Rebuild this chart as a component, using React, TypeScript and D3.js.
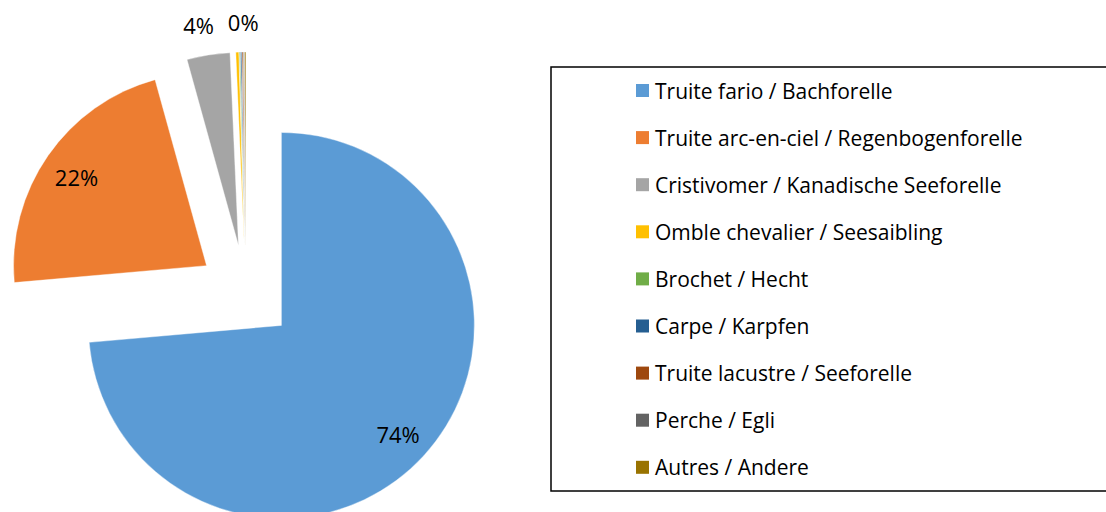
import React from 'react'
import { arc, pie, PieArcDatum } from 'd3'

const species = [
  'Truite fario / Bachforelle',
  'Truite arc-en-ciel / Regenbogenforelle',
  'Cristivomer / Kanadische Seeforelle',
  'Omble chevalier / Seesaibling',
  'Brochet / Hecht',
  'Carpe / Karpfen',
  'Truite lacustre / Seeforelle',
  'Perche / Egli',
  'Autres / Andere',
]
const shares = [73.6, 22.1, 3.6, 0.25, 0.08, 0.1, 0.1, 0.07, 0.1]
const colors = [
  '#5B9BD5',
  '#ED7D31',
  '#A5A5A5',
  '#FFC000',
  '#70AD47',
  '#255E91',
  '#9E480E',
  '#636363',
  '#997300',
]

type Slice = { name: string; value: number; color: string }
const slices: Slice[] = species.map((name, i) => ({
  name,
  value: shares[i],
  color: colors[i],
}))

const W = 1106
const H = 512
const cx = 246
const cy = 293
const radius = 193
const explode = 48
const font = '"Open Sans", Lato, sans-serif'

function App() {
  const total = shares.reduce((a, b) => a + b, 0)
  const arcs = pie<Slice>()
    .sort(null)
    .value((d) => d.value)(slices)

  const arcGen = arc<PieArcDatum<Slice>>().innerRadius(0).outerRadius(radius)

  const dir = (a: PieArcDatum<Slice>) => {
    const m = (a.startAngle + a.endAngle) / 2
    return [Math.sin(m), -Math.cos(m)]
  }

  // big slices get their label inside, small ones outside; overlapping ones are dropped
  let lastX = -Infinity
  const labels = arcs.map((a) => {
    const [dx, dy] = dir(a)
    const pct = Math.round((a.data.value / total) * 100)
    const inside = a.data.value / total > 0.1
    const d = inside ? radius * 0.82 : radius + 30
    let x = dx * (explode + d)
    const y = dy * (explode + d) + (inside ? 2 : 0)
    let show = true
    if (!inside) {
      if (Math.abs(x - lastX) < 30) show = false
      else {
        // outside labels spread apart a little, as the original does
        x += lastX === -Infinity ? -5 : 7
        lastX = x
      }
    }
    return { x, y, text: `${pct}%`, show }
  })

  const rowY = (i: number) => 90.5 + i * 47.1

  return (
    <svg
      width={W}
      height={H}
      style={{ position: 'absolute', left: 0, top: 0, background: '#fff' }}
    >
      <g transform={`translate(${cx},${cy})`}>
        {arcs.map((a, i) => {
          const [dx, dy] = dir(a)
          return (
            <path
              key={i}
              d={arcGen(a) || ''}
              fill={a.data.color}
              stroke="#fff"
              strokeWidth={0.4}
              transform={`translate(${dx * explode},${dy * explode})`}
            />
          )
        })}
        {labels.map((l, i) =>
          l.show ? (
            <text
              key={i}
              x={l.x}
              y={l.y}
              textAnchor="middle"
              dominantBaseline="central"
              fontFamily={font}
              fontSize={22}
              fill="#000"
            >
              {l.text}
            </text>
          ) : null
        )}
      </g>
      <rect
        x={551}
        y={67}
        width={600}
        height={424}
        fill="none"
        stroke="#000"
        strokeWidth={1.5}
      />
      {slices.map((s, i) => (
        <g key={i} transform={`translate(636,${rowY(i)})`}>
          <rect x={0} y={-6.5} width={13} height={13} fill={s.color} />
          <text
            x={19}
            y={0}
            dominantBaseline="central"
            fontFamily={font}
            fontSize={21}
            fill="#000"
          >
            {s.name}
          </text>
        </g>
      ))}
    </svg>
  )
}

export default App
